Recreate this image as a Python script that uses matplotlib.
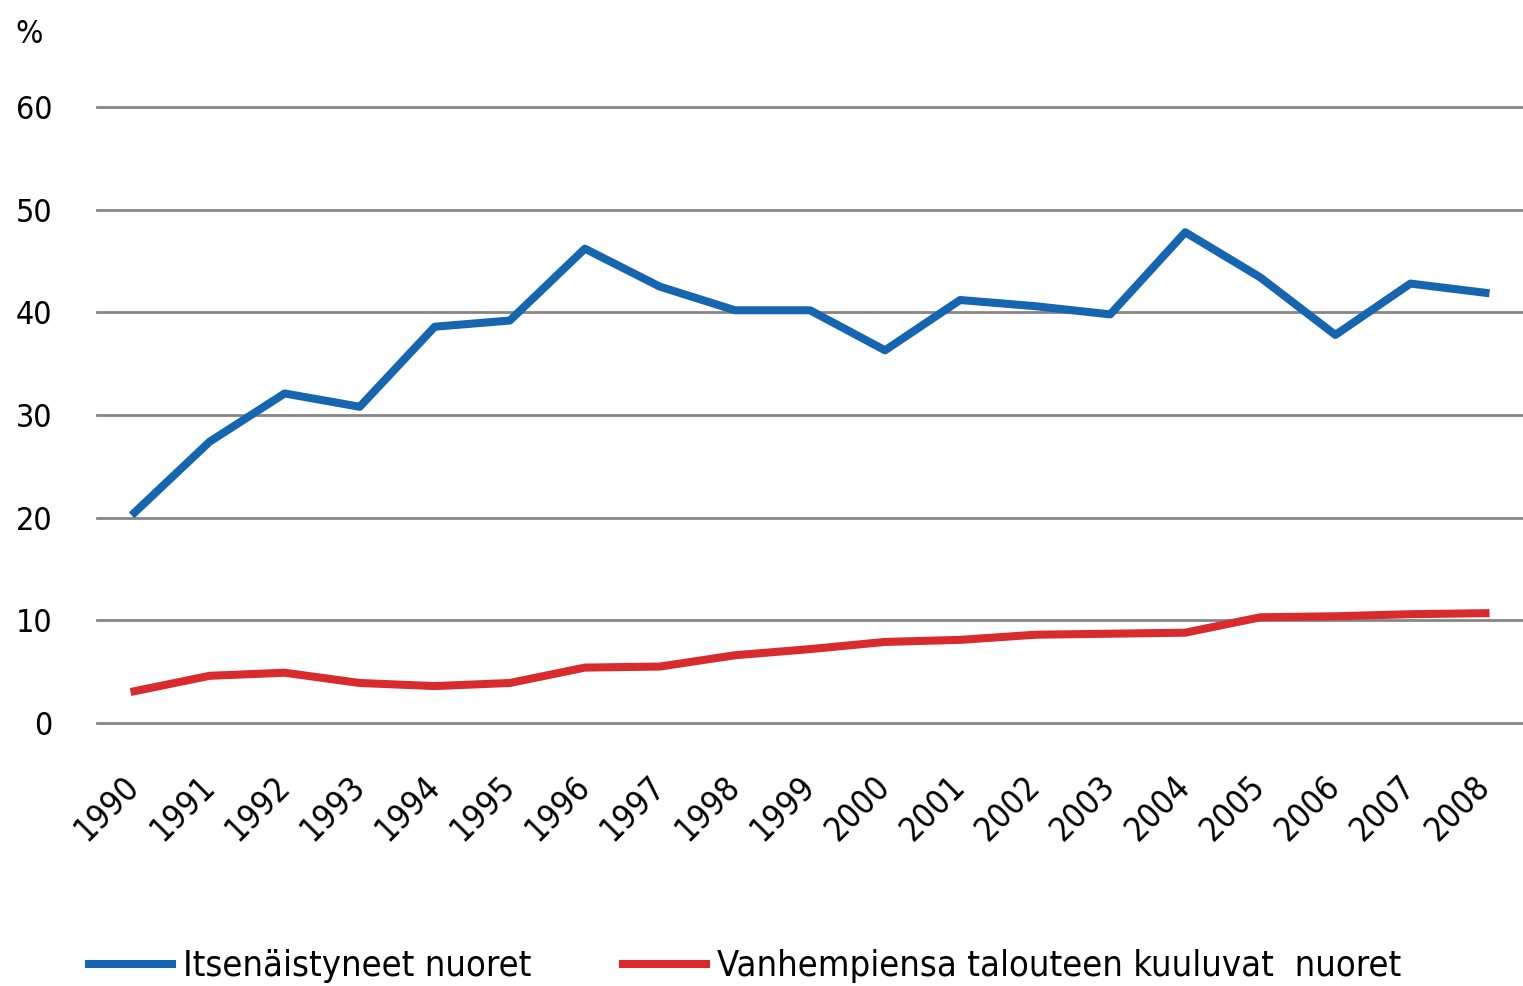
import matplotlib
matplotlib.use("Agg")
import matplotlib.pyplot as plt

years = [str(y) for y in range(1990, 2009)]
itsenaistyneet = [20.5, 27.4, 32.1, 30.8, 38.6, 39.2, 46.2, 42.5, 40.2, 40.2,
                  36.3, 41.2, 40.6, 39.8, 47.8, 43.4, 37.8, 42.8, 41.9]
kotona = [3.1, 4.6, 4.9, 3.9, 3.6, 3.9, 5.4, 5.5, 6.6, 7.2,
          7.9, 8.1, 8.6, 8.7, 8.8, 10.3, 10.4, 10.6, 10.7]
labels = ["Itsenäistyneet nuoret", "Vanhempiensa talouteen kuuluvat  nuoret"]

plt.rcParams["font.family"] = ["DejaVu Sans"]
plt.rcParams["font.stretch"] = "condensed"

fig = plt.figure(figsize=(15.23, 9.86), dpi=100)
ax = fig.add_axes([0.0637, 0.2667, 0.9363, 0.6248])

x = range(len(years))
ax.plot(x, itsenaistyneet, color="#1565B0", lw=5.8, label=labels[0], solid_joinstyle="round")
ax.plot(x, kotona, color="#D92B2E", lw=5.8, label=labels[1], solid_joinstyle="round")

ax.set_xlim(-0.5, len(years) - 0.5)
ax.set_ylim(0, 60)
ax.set_yticks(range(0, 61, 10))
ax.grid(axis="y", color="#868686", lw=2)
for gl in ax.get_ygridlines():
    gl.set_clip_on(False)
ax.set_axisbelow(True)
for s in ax.spines.values():
    s.set_visible(False)

ax.set_xticks(list(x))
ax.set_xticklabels(years, rotation=45, ha="right", va="center", rotation_mode="anchor")
ax.tick_params(axis="x", length=0, pad=42, labelsize=24)
ax.tick_params(axis="y", length=0, pad=32, labelsize=23)

fig.text(0.01, 0.965, "%", fontsize=23, va="center", ha="left")

fig.legend(loc="center left", bbox_to_anchor=(0.037, 0.02), ncol=2, frameon=False,
           fontsize=26, handlelength=2.3, handletextpad=0.3, columnspacing=2.55)

fig.savefig("out.png", dpi=100)
